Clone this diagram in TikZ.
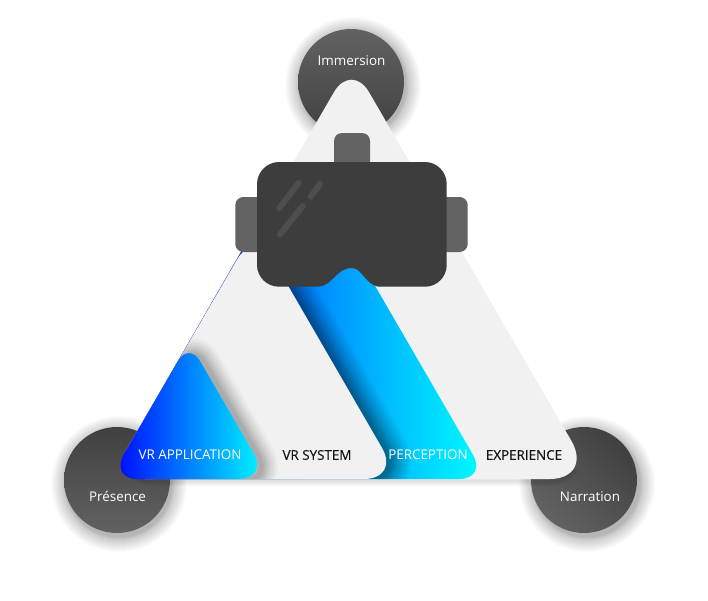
\documentclass[tikz,border=0pt]{standalone}
\usepackage{fontspec}
\setmainfont{Open Sans}
\definecolor{panel}{HTML}{F1F1F1}
\definecolor{discA}{HTML}{404040}
\definecolor{discB}{HTML}{626262}
\definecolor{visor}{HTML}{3D3D3D}
\definecolor{strap}{HTML}{636363}
\definecolor{glint}{HTML}{4E4E4E}
\definecolor{inkdark}{HTML}{161616}
\def\bigtriB{[rounded corners=44pt] (351.5,479) -- (109.5,479) [rounded corners=35pt] -- (351.5,62) [rounded corners=44pt] -- (593.5,479) -- cycle}
\def\pertri{[rounded corners=28pt] (298,479) -- (109.9,479) -- (298,153) -- (487,479) -- cycle}
\def\systri{[rounded corners=36pt] (255,479) -- (109.5,479) -- (255,228.6) -- (400,479) -- cycle}
\def\apptri{[rounded corners=30pt] (189,479) -- (109.5,479) [rounded corners=22pt] -- (189,342) [rounded corners=30pt] -- (268.5,479) -- cycle}
\newcommand\softshadow[5]{%
  \begin{scope}[shift={(#1,#2)}]
    \foreach \w in {#3}{\path[draw=black,opacity=#4,line width=\w pt,line join=round] #5;}
  \end{scope}}
\newcommand\softdisc[4]{%
  \foreach \w in {1,1.5,2,2.5,3,3.5,4,5,6,7,8,9,10,11,12,13,14,15,16}{\fill[black,opacity=.015] (#1+#3,#2+#4) circle[radius=52+\w];}}
\tikzset{
  disc/.style={circle,minimum size=106pt,inner sep=0pt,text=white},
  label/.style={font=\fontsize{13.4}{15}\selectfont,inner sep=0pt},
  lightlabel/.style={label,text=white},
  darklabel/.style={label,text=inkdark,font=\fontsize{13.4}{15}\selectfont\addfontfeature{FakeBold=0.35}},
  strapbox/.style={fill=strap,rounded corners=8pt},
  glintline/.style={draw=glint,line width=6pt,line cap=round}
}
\begin{document}
\begin{tikzpicture}[x=1pt,y=-1pt]
\useasboundingbox (0,0) rectangle (708,600);
\fill[white] (0,0) rectangle (708,600);
% discs
\softdisc{351}{82}{2}{3}
\softdisc{117}{480}{2}{4}
\softdisc{584}{480}{3}{4}
\node[disc,top color=discB,bottom color=discA] (imm) at (351,82) {};
\node[disc,top color=discA,bottom color=discB] (pre) at (117,480) {};
\node[disc,left color=discA,right color=discB,shading angle=-45] (nar) at (584,480) {};
% large triangle
\begin{scope}
  \clip (0,470) rectangle (708,600);
  \softshadow{0}{2}{2,4,6,8,10}{.022}{\bigtriB}
\end{scope}
\fill[panel] \bigtriB;
% inner layers
\shade[left color=blue,right color=cyan] \pertri;
\begin{scope}
  \clip \bigtriB;
  \softshadow{2}{1}{4,6,8,10,12,14,16,18,21,24,27,30,34,38,42,46}{.03}{\systri}
\end{scope}
\fill[panel] \systri;
\begin{scope}
  \clip \bigtriB;
  \softshadow{4}{2}{4,6,8,10,12,14,16,18,21,24,27,30,34}{.024}{\apptri}
\end{scope}
\shade[left color=blue,right color=cyan] \apptri;
% headset
\fill[strapbox] (334,133) rectangle (370,180);
\fill[strapbox] (235.3,197) rectangle (280,252);
\fill[strapbox] (425,197) rectangle (467.7,252);
\fill[visor] (279,162) -- (425,162) .. controls (437,162) and (446.7,172) .. (446.7,184)
  -- (446.7,265) .. controls (446.7,277) and (437,286.7) .. (425,286.7)
  -- (378,286.7) .. controls (365,284) and (362,268) .. (351.7,268)
  .. controls (336,268) and (332,286.7) .. (318,286.7)
  -- (279,286.7) .. controls (267,286.7) and (257,277) .. (257,265)
  -- (257,184) .. controls (257,172) and (267,162) .. (279,162) -- cycle;
\draw[glintline] (298.7,183) -- (279.3,208);
\draw[glintline] (320,184) -- (310.7,196.7);
\draw[glintline] (302.7,206) -- (280,234.3);
% labels
\node[lightlabel] (timm) at (351.5,60.5) {Immersion};
\node[lightlabel] (tpre) at (117.5,496.5) {Présence};
\node[lightlabel] (tnar) at (590,496.5) {Narration};
\node[lightlabel] (tapp) at (190,455) {VR APPLICATION};
\node[darklabel] (tsys) at (317,455) {VR SYSTEM};
\node[lightlabel] (tper) at (428,455) {PERCEPTION};
\node[darklabel] (texp) at (524,455) {EXPERIENCE};
\end{tikzpicture}
\end{document}
